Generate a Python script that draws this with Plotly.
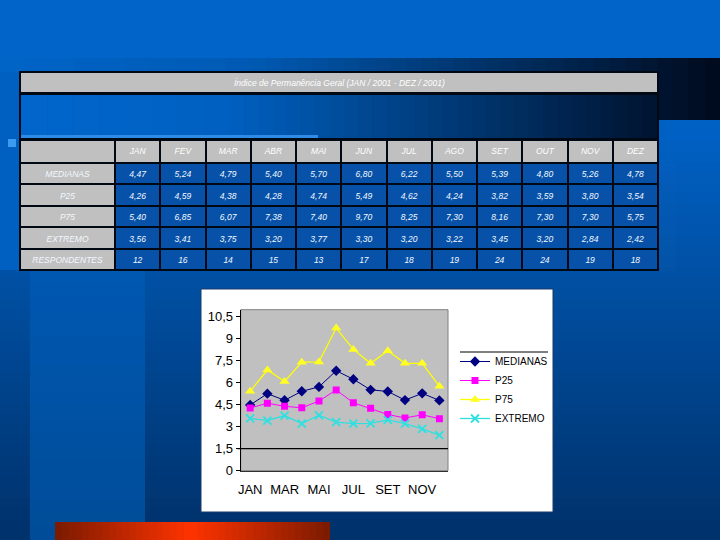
import plotly.graph_objects as go

# ---------------- data ----------------
months = ["JAN", "FEV", "MAR", "ABR", "MAI", "JUN", "JUL", "AGO", "SET", "OUT", "NOV", "DEZ"]
medianas = [4.47, 5.24, 4.79, 5.40, 5.70, 6.80, 6.22, 5.50, 5.39, 4.80, 5.26, 4.78]
p25 = [4.26, 4.59, 4.38, 4.28, 4.74, 5.49, 4.62, 4.24, 3.82, 3.59, 3.80, 3.54]
p75 = [5.40, 6.85, 6.07, 7.38, 7.40, 9.70, 8.25, 7.30, 8.16, 7.30, 7.30, 5.75]
extremo = [3.56, 3.41, 3.75, 3.20, 3.77, 3.30, 3.20, 3.22, 3.45, 3.20, 2.84, 2.42]
respondentes = [12, 16, 14, 15, 13, 17, 18, 19, 24, 24, 19, 18]
row_labels = ["MEDIANAS", "P25", "P75", "EXTREMO", "RESPONDENTES"]
table_title = "Índice de Permanência Geral (JAN / 2001 - DEZ / 2001)"
y_tickvals = [0, 1.5, 3, 4.5, 6, 7.5, 9, 10.5]
y_ticktext = ["0", "1,5", "3", "4,5", "6", "7,5", "9", "10,5"]
x_tick_months = months[::2]

W, H = 720, 540


def px(x):
    return x / W


def py(y):
    return 1 - y / H


def hexrgb(c):
    c = c.lstrip("#")
    return tuple(int(c[i:i + 2], 16) for i in (0, 2, 4))


def mix(c0, c1, t):
    a, b = hexrgb(c0), hexrgb(c1)
    return "rgb(%d,%d,%d)" % tuple(round(a[i] + (b[i] - a[i]) * t) for i in range(3))


shapes = []


def rect(x0, y0, x1, y1, color, line=None, lw=0, layer="below"):
    shapes.append(dict(type="rect", xref="paper", yref="paper", layer=layer,
                       x0=px(x0), x1=px(x1), y0=py(y1), y1=py(y0),
                       fillcolor=color,
                       line=dict(width=lw, color=line or color)))


def hgrad(x0, x1, y0, y1, c0, c1, n=30):
    step = (x1 - x0) / n
    for i in range(n):
        rect(x0 + i * step, y0, min(x1, x0 + (i + 1) * step + 0.6), y1, mix(c0, c1, (i + 0.5) / n))


def vgrad(x0, x1, y0, y1, c0, c1, n=30):
    step = (y1 - y0) / n
    for i in range(n):
        rect(x0, y0 + i * step, x1, min(y1, y0 + (i + 1) * step + 0.6), mix(c0, c1, (i + 0.5) / n))


# ---------------- background ----------------
rect(0, 0, 720, 60, "#0064C8")
vgrad(0, 720, 120, 540, "#0062C6", "#00316A", 40)
hgrad(0, 250, 58, 120, "#0064C8", "#005AB4", 10)
hgrad(250, 720, 58, 120, "#005AB4", "#000A1C", 30)
vgrad(30, 145, 270, 540, "#0058B2", "#004C98", 20)
rect(0, 72, 20, 270, "#0060C2")

# table title row + blue band
rect(19, 71, 659, 271, "#000814", "#000814", 0)
rect(21, 73, 657, 92, "#C0C0C0")
hgrad(21, 230, 95, 138, "#0066CC", "#0060C0", 8)
hgrad(230, 657, 95, 138, "#0060C0", "#001430", 30)
rect(21, 135, 318, 138, "#2E8CE6")
rect(8, 139, 16, 147, "#3A9AF0")

# bottom orange bar
hgrad(55, 190, 522, 540, "#7A1A00", "#FF3300", 20)
hgrad(190, 330, 522, 540, "#FF3300", "#7A1A00", 20)

# chart white box
rect(201, 289, 553, 512, "#FFFFFF", "#1A3A6A", 1)
# plot area
shapes.append(dict(type="rect", xref="x domain", yref="y domain", layer="below",
                   x0=0, x1=1, y0=0, y1=1, fillcolor="#C0C0C0",
                   line=dict(color="#808080", width=1)))
shapes.append(dict(type="line", xref="x domain", yref="y", layer="below",
                   x0=-0.015, x1=1, y0=1.5, y1=1.5, line=dict(color="#000000", width=1.2)))
# legend top rule
shapes.append(dict(type="line", xref="paper", yref="paper", layer="above",
                   x0=px(460), x1=px(548), y0=py(352), y1=py(352),
                   line=dict(color="#000000", width=1.2)))

fig = go.Figure()

# ---------------- table ----------------
def fmt(v):
    return ("%.2f" % v).replace(".", ",")


cols = [row_labels]
for i in range(len(months)):
    cols.append([fmt(medianas[i]), fmt(p25[i]), fmt(p75[i]), fmt(extremo[i]), str(respondentes[i])])

gray = "#C0C0C0"
blue = "#0752A8"
fig.add_trace(go.Table(
    domain=dict(x=[px(20), px(658)], y=[py(271), py(140)]),
    columnwidth=[95] + [45.25] * 12,
    header=dict(values=[""] + months, fill_color=gray, align="center",
                line=dict(color="#000814", width=2), height=23,
                font=dict(family="Liberation Sans", size=8.5, color="#FFFFFF", style="italic")),
    cells=dict(values=cols, align="center", height=21.4,
               fill_color=[[gray] * 5] + [[blue] * 5] * 12,
               line=dict(color="#000814", width=2),
               font=dict(family="Liberation Sans", size=8.5, color="#F2F8FF", style="italic")),
))

# ---------------- chart ----------------
fig.add_trace(go.Scatter(x=months, y=medianas, name="MEDIANAS", mode="lines+markers",
                         line=dict(color="#000080", width=1),
                         marker=dict(symbol="diamond", size=8, color="#000080")))
fig.add_trace(go.Scatter(x=months, y=p25, name="P25", mode="lines+markers",
                         line=dict(color="#FF00FF", width=1),
                         marker=dict(symbol="square", size=7, color="#FF00FF")))
fig.add_trace(go.Scatter(x=months, y=p75, name="P75", mode="lines+markers",
                         line=dict(color="#FFFF00", width=1.3),
                         marker=dict(symbol="triangle-up", size=9, color="#FFFF22")))
fig.add_trace(go.Scatter(x=months, y=extremo, name="EXTREMO", mode="lines+markers",
                         line=dict(color="#30E0E0", width=1.3),
                         marker=dict(symbol="x-thin", size=8, line=dict(color="#30E0E0", width=1.8))))

fig.update_layout(
    width=W, height=H, autosize=False,
    margin=dict(l=0, r=0, t=0, b=0, pad=0, autoexpand=False),
    paper_bgcolor="#0064C8", plot_bgcolor="rgba(0,0,0,0)",
    separators=",.",
    shapes=shapes,
    showlegend=True,
    legend=dict(x=px(455), y=py(347), xanchor="left", yanchor="top",
                bgcolor="rgba(0,0,0,0)", borderwidth=0,
                font=dict(family="Liberation Sans", size=10, color="#000000")),
    xaxis=dict(domain=[px(240.7), px(448)], range=[-0.55, 11.5], automargin=False,
               tickmode="array", tickvals=x_tick_months, ticktext=x_tick_months,
               showgrid=False, zeroline=False, showline=True, linecolor="#303030", linewidth=1,
               ticks="", ticklabelstandoff=7,
               tickfont=dict(family="Liberation Sans", size=13, color="#000000")),
    yaxis=dict(domain=[py(470.7), py(309.7)], range=[0, 10.95], automargin=False,
               tickmode="array", tickvals=y_tickvals, ticktext=y_ticktext,
               showgrid=False, zeroline=False, showline=True, linecolor="#000000", linewidth=1,
               ticks="outside", ticklen=4, tickcolor="#000000",
               tickfont=dict(family="Liberation Sans", size=13, color="#000000")),
    annotations=[dict(text=table_title, xref="paper", yref="paper", x=px(339), y=py(82.5),
                      showarrow=False, xanchor="center", yanchor="middle",
                      font=dict(family="Liberation Sans", size=8.5, color="#FFFFFF", style="italic"))],
)

fig.write_html("out.html", config={"displayModeBar": False})
